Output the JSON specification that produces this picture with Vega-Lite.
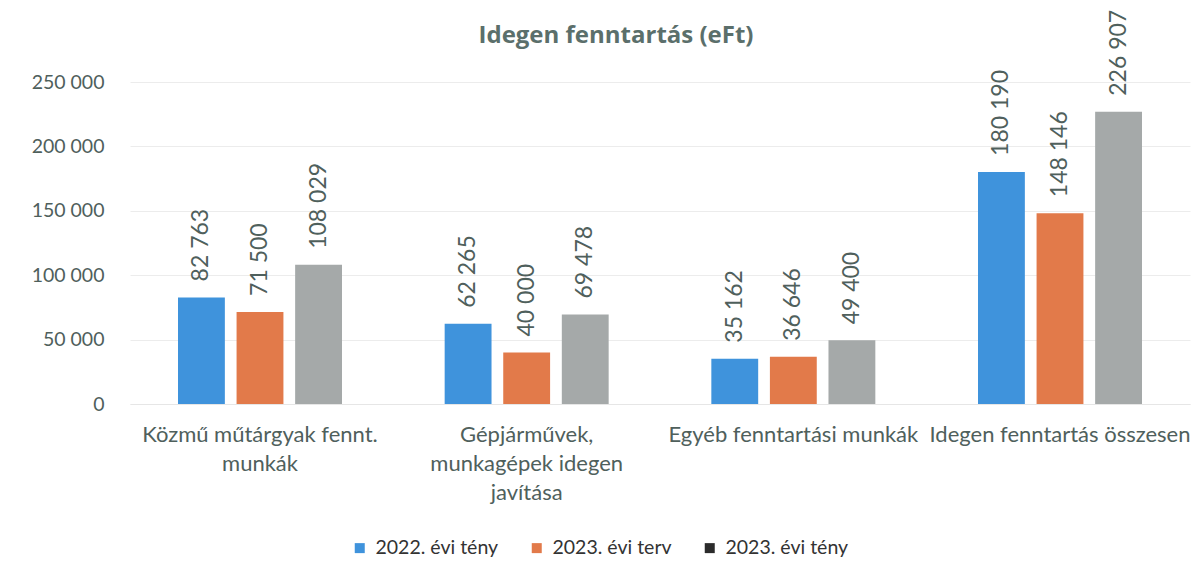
{
  "$schema": "https://vega.github.io/schema/vega-lite/v6.json",
  "width": 1060,
  "height": 322,
  "autosize": "none",
  "padding": {"left": 130, "top": 82, "right": 4, "bottom": 177},
  "background": "white",
  "config": {
    "locale": {"number": {"decimal": ",", "thousands": " ", "grouping": [3], "currency": ["", " Ft"]}},
    "view": {"stroke": null},
    "font": "Lato"
  },
  "title": {
    "text": "Idegen fenntartás (eFt)",
    "fontSize": 24,
    "fontWeight": "bold",
    "color": "#5b6f6b",
    "anchor": "middle",
    "offset": -38,
    "dx": -44,
    "font": "Open Sans"
  },
  "data": {
    "values": [
      {"kategoria": "Közmű műtárgyak fennt. munkák", "sorozat": "2022. évi tény", "ertek": 82763},
      {"kategoria": "Közmű műtárgyak fennt. munkák", "sorozat": "2023. évi terv", "ertek": 71500},
      {"kategoria": "Közmű műtárgyak fennt. munkák", "sorozat": "2023. évi tény", "ertek": 108029},
      {"kategoria": "Gépjárművek, munkagépek idegen javítása", "sorozat": "2022. évi tény", "ertek": 62265},
      {"kategoria": "Gépjárművek, munkagépek idegen javítása", "sorozat": "2023. évi terv", "ertek": 40000},
      {"kategoria": "Gépjárművek, munkagépek idegen javítása", "sorozat": "2023. évi tény", "ertek": 69478},
      {"kategoria": "Egyéb fenntartási munkák", "sorozat": "2022. évi tény", "ertek": 35162},
      {"kategoria": "Egyéb fenntartási munkák", "sorozat": "2023. évi terv", "ertek": 36646},
      {"kategoria": "Egyéb fenntartási munkák", "sorozat": "2023. évi tény", "ertek": 49400},
      {"kategoria": "Idegen fenntartás összesen", "sorozat": "2022. évi tény", "ertek": 180190},
      {"kategoria": "Idegen fenntartás összesen", "sorozat": "2023. évi terv", "ertek": 148146},
      {"kategoria": "Idegen fenntartás összesen", "sorozat": "2023. évi tény", "ertek": 226907}
    ]
  },
  "encoding": {
    "x": {
      "field": "kategoria",
      "type": "nominal",
      "sort": ["Közmű műtárgyak fennt. munkák", "Gépjárművek, munkagépek idegen javítása", "Egyéb fenntartási munkák", "Idegen fenntartás összesen"],
      "scale": {"paddingInner": 0.385, "paddingOuter": 0.18},
      "axis": {
        "title": null,
        "labelAngle": 0,
        "labelFontSize": 22,
        "labelColor": "#4f605c",
        "labelPadding": 20,
        "labelLineHeight": 29,
        "labelLimit": 320,
        "ticks": false,
        "domainColor": "#e6e6e6",
        "labelExpr": "datum.value == 'Közmű műtárgyak fennt. munkák' ? ['Közmű műtárgyak fennt.', 'munkák'] : datum.value == 'Gépjárművek, munkagépek idegen javítása' ? ['Gépjárművek,', 'munkagépek idegen', 'javítása'] : datum.value"
      }
    },
    "xOffset": {
      "field": "sorozat",
      "type": "nominal",
      "sort": ["2022. évi tény", "2023. évi terv", "2023. évi tény"],
      "scale": {"paddingInner": 0.2}
    },
    "y": {
      "field": "ertek",
      "type": "quantitative",
      "scale": {"domain": [0, 250000]},
      "axis": {
        "title": null,
        "values": [0, 50000, 100000, 150000, 200000, 250000],
        "format": ",.0f",
        "labelFontSize": 19.5,
        "labelColor": "#4f605c",
        "labelPadding": 26,
        "ticks": false,
        "domain": false,
        "gridColor": "#ececec"
      }
    }
  },
  "layer": [
    {
      "mark": {"type": "bar"},
      "encoding": {
        "color": {
          "field": "sorozat",
          "type": "nominal",
          "scale": {"domain": ["2022. évi tény", "2023. évi terv", "2023. évi tény"], "range": ["#3f93dc", "#e27a4a", "#a5a9a9"]},
          "legend": null
        }
      }
    },
    {
      "mark": {"type": "text", "angle": 270, "align": "left", "baseline": "middle", "dx": 16, "fontSize": 23, "color": "#4f605c"},
      "encoding": {
        "text": {"field": "ertek", "type": "quantitative", "format": ","}
      }
    },
    {
      "mark": {"type": "bar"},
      "encoding": {
        "y": {"datum": 0},
        "fill": {
          "field": "sorozat",
          "type": "nominal",
          "scale": {"domain": ["2022. évi tény", "2023. évi terv", "2023. évi tény"], "range": ["#3f93dc", "#e27a4a", "#2b2b2b"]},
          "legend": {
            "title": null,
            "orient": "none",
            "direction": "horizontal",
            "legendX": 220,
            "legendY": 456,
            "symbolType": "square",
            "symbolSize": 100,
            "symbolStrokeWidth": 0,
            "labelFontSize": 19.5,
            "labelColor": "#333333",
            "labelOffset": 6,
            "columnPadding": 28
          }
        }
      }
    }
  ],
  "resolve": {"scale": {"color": "independent", "fill": "independent"}}
}
